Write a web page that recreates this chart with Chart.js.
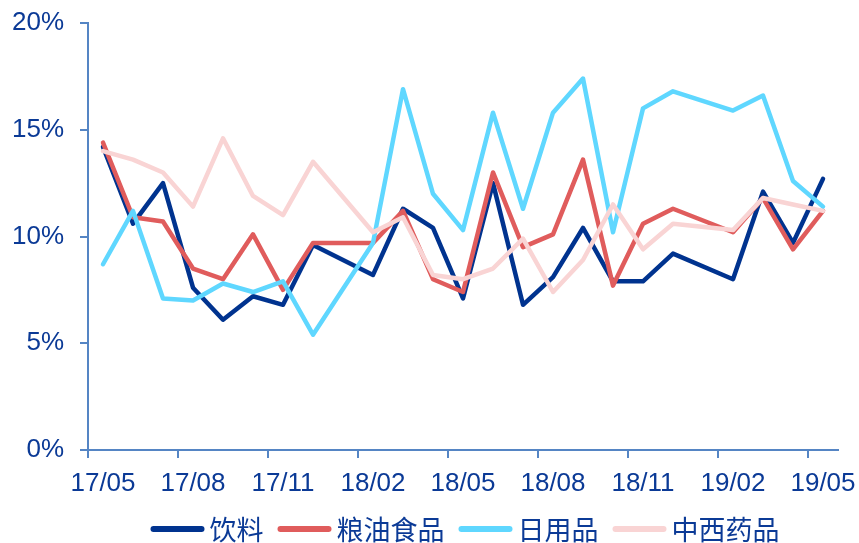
<!DOCTYPE html>
<html>
<head>
<meta charset="utf-8">
<script src="https://cdn.jsdelivr.net/npm/chart.js@4/dist/chart.umd.min.js"></script>
<style>
  html, body { margin: 0; padding: 0; background: #ffffff; }
  #wrap { width: 859px; height: 543px; position: relative; }
</style>
</head>
<body>
<div id="wrap"><canvas id="c"></canvas></div>
<script>
// Monthly year-on-year growth of retail sales by category (%), 2017/05 – 2019/05.
// January figures are not published separately, so those months are left empty.
const months = [
  '17/05','17/06','17/07','17/08','17/09','17/10','17/11','17/12',
  '18/01','18/02','18/03','18/04','18/05','18/06','18/07','18/08',
  '18/09','18/10','18/11','18/12','19/01','19/02','19/03','19/04','19/05'
];

const seriesNames = ['饮料', '粮油食品', '日用品', '中西药品'];

const drinks   = [14.2,10.6,12.5, 7.6, 6.1, 7.2, 6.8, 9.6,null, 8.2,11.3,10.4, 7.1,12.5, 6.8, 8.1,10.4, 7.9, 7.9, 9.2,null, 8.0,12.1, 9.7,12.7];
const grainOil = [14.4,10.9,10.7, 8.5, 8.0,10.1, 7.5, 9.7,null, 9.7,11.2, 8.0, 7.4,13.0, 9.5,10.1,13.6, 7.7,10.6,11.3,null,10.2,11.8, 9.4,11.2];
const daily    = [ 8.7,11.2, 7.1, 7.0, 7.8, 7.4, 7.9, 5.4,null, 9.7,16.9,12.0,10.3,15.8,11.3,15.8,17.4,10.2,16.0,16.8,null,15.9,16.6,12.6,11.4];
const medicine = [14.0,13.6,13.0,11.4,14.6,11.9,11.0,13.5,null,10.2,10.9, 8.2, 8.0, 8.5, 9.9, 7.4, 8.9,11.5, 9.4,10.6,null,10.3,11.8,11.5,11.2];

const yTicks = [0, 5, 10, 15, 20];

const colors = ['#00338f', '#e05c5c', '#5fd7ff', '#f9d4d4'];
const axisColor = '#5585c4';
const textColor = '#0b3a96';
const fontFamily = '"Liberation Sans", Arial, "Noto Sans CJK SC", sans-serif';
const cjkFamily = '"Noto Sans CJK SC", "Liberation Sans", sans-serif';

function makeSet(label, data, color, order) {
  return {
    label, data,
    borderColor: color,
    backgroundColor: color,
    borderWidth: 4.5,
    borderCapStyle: 'round',
    borderJoinStyle: 'round',
    pointRadius: 0,
    pointHoverRadius: 0,
    tension: 0,
    fill: false,
    spanGaps: true,
    order
  };
}

// Legend drawn beneath the plot: a short line sample followed by the series name.
const bottomLegend = {
  id: 'bottomLegend',
  afterDraw(chart) {
    const ctx = chart.ctx;
    const area = chart.chartArea;
    const sampleW = 54, gapText = 5, gapItem = 14;
    ctx.save();
    ctx.font = '27px ' + cjkFamily;
    const items = chart.data.datasets.map(ds => ({
      label: ds.label, color: ds.borderColor, w: ctx.measureText(ds.label).width
    }));
    const total = items.reduce((s, it) => s + sampleW + gapText + it.w, 0) + gapItem * (items.length - 1);
    let x = (area.left + area.right) / 2 + 2 - total / 2;
    const y = 529;
    ctx.textBaseline = 'middle';
    ctx.textAlign = 'left';
    items.forEach(it => {
      ctx.strokeStyle = it.color;
      ctx.lineWidth = 6;
      ctx.lineCap = 'round';
      ctx.beginPath();
      ctx.moveTo(x + 3, y);
      ctx.lineTo(x + sampleW - 3, y);
      ctx.stroke();
      ctx.fillStyle = textColor;
      ctx.fillText(it.label, x + sampleW + gapText, y + 1);
      x += sampleW + gapText + it.w + gapItem;
    });
    ctx.restore();
  }
};

new Chart(document.getElementById('c'), {
  type: 'line',
  data: {
    labels: months,
    datasets: [
      makeSet(seriesNames[0], drinks,   colors[0], 4),
      makeSet(seriesNames[1], grainOil, colors[1], 3),
      makeSet(seriesNames[2], daily,    colors[2], 2),
      makeSet(seriesNames[3], medicine, colors[3], 1)
    ]
  },
  options: {
    responsive: true,
    maintainAspectRatio: false,
    animation: false,
    layout: { padding: { left: 0, right: 21, top: 23, bottom: 43 } },
    plugins: {
      legend: { display: false },
      tooltip: { enabled: false }
    },
    scales: {
      x: {
        type: 'category',
        offset: true,
        grid: {
          offset: true,
          drawOnChartArea: false,
          drawTicks: true,
          tickLength: 8,
          lineWidth: 2,
          tickColor: ctx => (ctx.index !== undefined && ctx.index % 3 === 0) ? axisColor : 'rgba(0,0,0,0)'
        },
        border: { display: true, color: axisColor, width: 2 },
        ticks: {
          autoSkip: false,
          maxRotation: 0,
          minRotation: 0,
          padding: 10,
          color: textColor,
          font: { family: fontFamily, size: 26 },
          callback: (v, i) => (i % 3 === 0 ? months[i] : '')
        },
        afterFit(scale) {
          scale.height = 50;
          scale.paddingLeft = 0;
          scale.paddingRight = 0;
        }
      },
      y: {
        min: 0,
        max: 20,
        afterBuildTicks(scale) {
          scale.ticks = yTicks.map(v => ({ value: v }));
        },
        grid: {
          drawOnChartArea: false,
          drawTicks: true,
          tickLength: 8,
          lineWidth: 2,
          tickColor: axisColor
        },
        border: { display: true, color: axisColor, width: 2 },
        ticks: {
          padding: 16,
          color: textColor,
          font: { family: fontFamily, size: 26 },
          callback: v => v + '%'
        },
        afterFit(scale) {
          scale.width = 88;
          scale.paddingTop = 0;
          scale.paddingBottom = 0;
        }
      }
    }
  },
  plugins: [bottomLegend]
});
</script>
</body>
</html>
